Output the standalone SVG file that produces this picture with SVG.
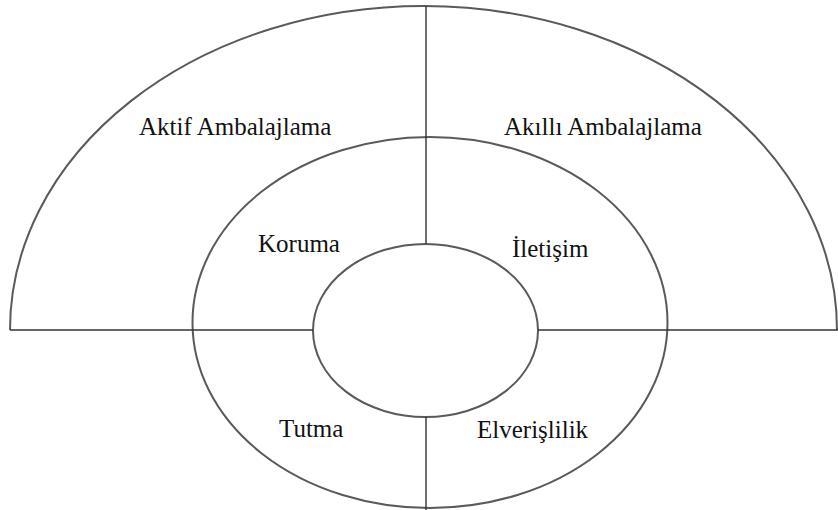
<svg xmlns="http://www.w3.org/2000/svg" width="838" height="510" viewBox="0 0 838 510">
<style>
.shape{fill:none;stroke:#5a5a5a;stroke-width:2}
.line{fill:none;stroke:#333;stroke-width:1.4}
.lbl{font-family:'Liberation Serif','Times New Roman',Tinos,'Nimbus Roman','DejaVu Serif',serif;font-size:25px;fill:#111}
</style>
<rect width="838" height="510" fill="#fff"/>
<g id="outer"><path class="shape" d="M10,330 A413.5,324 0 0 1 837,330"/></g>
<g id="middle"><ellipse class="shape" cx="430" cy="322.5" rx="237.5" ry="185.5"/></g>
<g id="inner"><ellipse class="shape" cx="425.5" cy="330.5" rx="112.5" ry="86.5"/></g>
<g id="connectors">
<line class="line" x1="10" y1="330" x2="313" y2="330"/>
<line class="line" x1="538" y1="330" x2="838" y2="330"/>
<line class="line" x1="426" y1="6" x2="426" y2="244"/>
<line class="line" x1="426" y1="417" x2="426" y2="510"/>
</g>
<g id="labels">
<text class="lbl" x="139" y="135">Aktif Ambalajlama</text>
<text class="lbl" x="504" y="135">Akıllı Ambalajlama</text>
<text class="lbl" x="258" y="252">Koruma</text>
<text class="lbl" x="512" y="257">İletişim</text>
<text class="lbl" x="279" y="437">Tutma</text>
<text class="lbl" x="477" y="438">Elverişlilik</text>
</g>
</svg>
